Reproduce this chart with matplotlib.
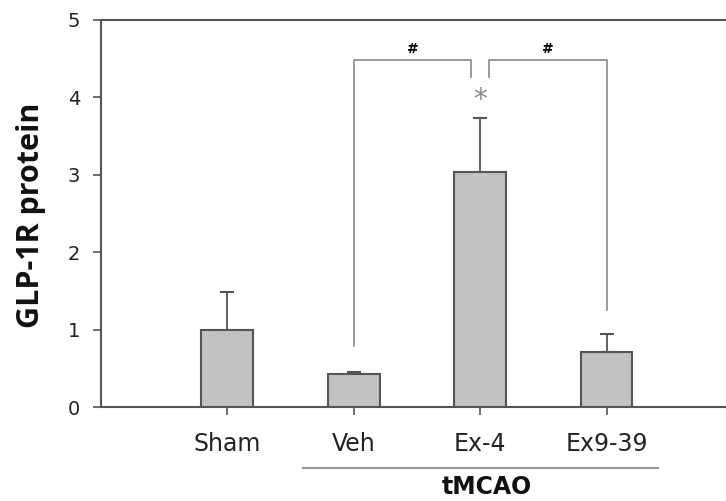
import matplotlib
matplotlib.use("Agg")
import matplotlib.pyplot as plt
import matplotlib.transforms as mtransforms

# data
groups = ["Sham", "Veh", "Ex-4", "Ex9-39"]
means = [1.0, 0.43, 3.04, 0.71]
errs = [0.48, 0.02, 0.70, 0.23]
yticks = [0, 1, 2, 3, 4, 5]

plt.rcParams['font.family'] = ['DejaVu Sans']

fig = plt.figure(figsize=(7.26, 5.01), dpi=100)
ax = fig.add_axes([0.1391, 0.1876, 0.8705, 0.7725])

x = list(range(len(groups)))
ax.bar(x, means, width=0.41, color="#c2c2c2", edgecolor="#555555", linewidth=1.5, zorder=2)
ax.errorbar(x, means, yerr=[[0] * len(errs), errs], fmt="none", ecolor="#555555",
            elinewidth=1.3, capsize=5, capthick=1.5, zorder=1)

ax.set_xlim(-1.0, 4.0)
ax.set_ylim(0, 5)
ax.set_yticks(yticks)
ax.set_xticks(x)
ax.set_xticklabels(groups, fontsize=17, color="#222222")
ax.tick_params(axis="x", length=6, width=1.2, color="#555555", pad=12)
ax.tick_params(axis="y", length=6, width=1.2, color="#555555", pad=9, labelsize=14, labelcolor="#222222")

for side in ["left", "bottom", "top"]:
    ax.spines[side].set_color("#555555")
    ax.spines[side].set_linewidth(1.5)
ax.spines["right"].set_visible(False)

# significance brackets
bc = "#8a8a8a"
top = 4.48
ax.plot([x[1], x[1], x[2] - 0.07, x[2] - 0.07], [0.79, top, top, 4.26], color=bc, lw=1.2)
ax.plot([x[2] + 0.07, x[2] + 0.07, x[3], x[3]], [4.26, top, top, 1.25], color=bc, lw=1.2)
ax.text((x[1] + x[2] - 0.07) / 2, 4.63, "#", ha="center", va="center", fontsize=10, fontweight="bold")
ax.text((x[2] + 0.07 + x[3]) / 2, 4.63, "#", ha="center", va="center", fontsize=10, fontweight="bold")
ax.text(x[2], 3.96, "*", ha="center", va="center", fontsize=20, color="#8a8a8a")

# tMCAO group line
trans = mtransforms.blended_transform_factory(ax.transData, ax.transAxes)
ax.plot([x[1] - 0.4, x[3] + 0.41], [-0.158, -0.158], color="#9a9a9a", lw=1.5,
        transform=trans, clip_on=False)
ax.text(2.05, -0.225, "tMCAO", transform=trans, ha="center", va="baseline",
        fontsize=17, fontweight="bold", color="#111111")

fig.text(31 / 726, 1 - 215 / 501, "GLP-1R protein", rotation=90, ha="center", va="center",
         fontsize=22, fontweight="bold", color="#111111", family="Open Sans")

fig.savefig("out.png", dpi=100)
